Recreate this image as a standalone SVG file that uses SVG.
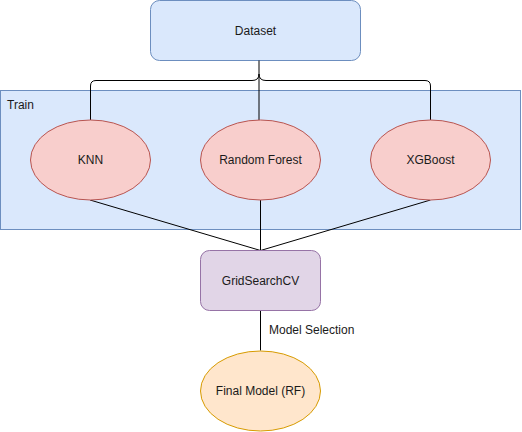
<svg xmlns="http://www.w3.org/2000/svg" width="522" height="432" viewBox="0 0 522 432">
<style>
text{font-family:"Liberation Sans",Arial,sans-serif;font-size:12px;fill:#1a1a1a}
.c{text-anchor:middle;dominant-baseline:central}
.edge{fill:none;stroke:#000;stroke-width:1}
.blue{fill:#dae8fc;stroke:#6c8ebf}
.red{fill:#f8cecc;stroke:#b85450}
</style>
<rect width="522" height="432" fill="#fff"/>
<g id="train">
<rect class="blue" x="0.5" y="90.5" width="520" height="139"/>
<text x="7" y="105" dominant-baseline="central">Train</text>
</g>
<g id="dataset">
<rect class="blue" x="150.5" y="0.5" width="210" height="60" rx="9"/>
<text class="c" x="255.5" y="31">Dataset</text>
</g>
<g id="connectors">
<path class="edge" d="M259 60.5V120"/>
<path class="edge" d="M90.5 120V86Q90.5 80.5 96 80.5H252Q259 80.5 259 74"/>
<path class="edge" d="M430.5 120V86Q430.5 80.5 425 80.5H266Q259 80.5 259 74"/>
<path class="edge" d="M90 200L260.5 250.5M260.5 200V250.5M430.5 200L260.5 250.5"/>
<path class="edge" d="M260.5 310.5V350.5"/>
</g>
<g id="knn">
<ellipse class="red" cx="90.5" cy="160" rx="60" ry="40"/>
<text class="c" x="90.5" y="160">KNN</text>
</g>
<g id="rf">
<ellipse class="red" cx="260.5" cy="160" rx="60" ry="40"/>
<text class="c" x="260.5" y="160">Random Forest</text>
</g>
<g id="xgb">
<ellipse class="red" cx="430.5" cy="160" rx="60" ry="40"/>
<text class="c" x="430.5" y="160">XGBoost</text>
</g>
<g id="gridsearch">
<rect x="200.5" y="250.5" width="120" height="60" rx="9" fill="#e1d5e7" stroke="#9673a6"/>
<text class="c" x="260.5" y="281">GridSearchCV</text>
</g>
<g id="label">
<text x="269" y="330" dominant-baseline="central">Model Selection</text>
</g>
<g id="final">
<ellipse cx="260.5" cy="391" rx="60" ry="40" fill="#ffe6cc" stroke="#d79b00"/>
<text class="c" x="260.5" y="391">Final Model (RF)</text>
</g>
</svg>
